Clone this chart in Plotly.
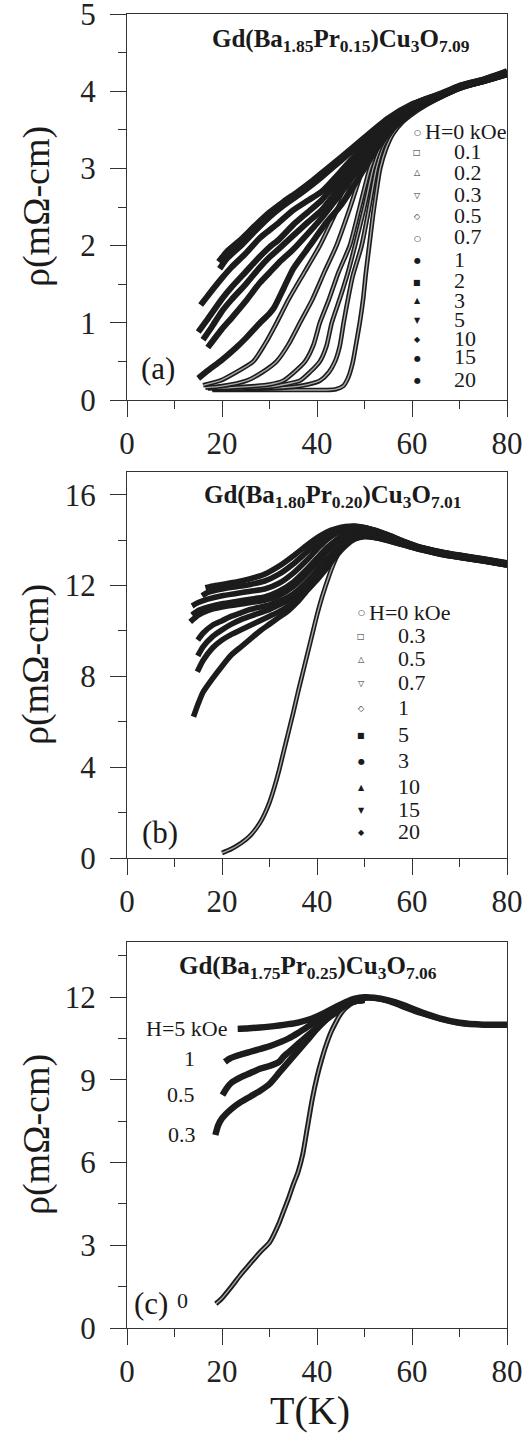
import plotly.graph_objects as go

# ---------------- Panel (a): Gd(Ba1.85Pr0.15)Cu3O7.09 ----------------
a_fields = ["H=0 kOe", "0.1", "0.2", "0.3", "0.5", "0.7", "1", "2", "3", "5", "10", "15", "20"]
a_T_0 = [18, 22, 26, 30, 34, 38, 42, 44, 45.5, 46.5, 47.5, 48.3, 49, 49.7, 50.3, 51, 51.8, 52.5, 53.3, 54.5, 56, 58, 60, 63, 66, 70, 75, 80]
a_rho_0 = [0.13, 0.13, 0.13, 0.13, 0.13, 0.13, 0.13, 0.14, 0.18, 0.28, 0.48, 0.75, 1.0, 1.3, 1.65, 2.0, 2.4, 2.7, 3.0, 3.25, 3.45, 3.6, 3.7, 3.82, 3.92, 4.03, 4.12, 4.21]
a_T_01 = [18, 25, 30, 35, 38, 40.6, 42.5, 43.8, 44.8, 45.6, 46.5, 47.5, 49.4, 51, 52.5, 54, 56, 58, 60, 63, 66, 70, 75, 80]
a_rho_01 = [0.14, 0.14, 0.15, 0.17, 0.2, 0.25, 0.36, 0.5, 0.7, 1.0, 1.3, 1.6, 2.0, 2.5, 3.0, 3.3, 3.5, 3.62, 3.72, 3.83, 3.92, 4.03, 4.12, 4.21]
a_T_02 = [18, 25, 30, 33, 36.4, 38.5, 40.6, 42, 43.1, 45, 46.5, 48, 50, 51.8, 53.5, 56, 58, 60, 63, 66, 70, 75, 80]
a_rho_02 = [0.14, 0.15, 0.17, 0.2, 0.25, 0.36, 0.5, 0.7, 1.0, 1.35, 1.65, 2.0, 2.5, 3.0, 3.3, 3.52, 3.64, 3.73, 3.84, 3.93, 4.04, 4.13, 4.22]
a_T_03 = [17, 22, 27, 30, 32.9, 35, 37.5, 39.3, 40.6, 42.5, 44.5, 46.9, 49, 51.1, 53, 55.5, 58, 60, 63, 66, 70, 75, 80]
a_rho_03 = [0.15, 0.16, 0.18, 0.2, 0.25, 0.35, 0.5, 0.72, 1.0, 1.3, 1.65, 2.0, 2.5, 3.0, 3.3, 3.53, 3.66, 3.74, 3.84, 3.93, 4.04, 4.13, 4.22]
a_T_05 = [16.5, 20, 25.2, 28.5, 31.5, 34, 36.4, 39, 41.5, 44.1, 47, 49.7, 52, 55, 58, 60, 63, 66, 70, 75, 80]
a_rho_05 = [0.16, 0.18, 0.25, 0.36, 0.5, 0.72, 1.0, 1.3, 1.65, 2.0, 2.5, 3.0, 3.28, 3.52, 3.68, 3.76, 3.85, 3.94, 4.04, 4.13, 4.22]
a_T_07 = [16, 19.6, 23, 26.6, 29, 31.5, 34, 37.3, 40.6, 44.5, 48.3, 51, 54, 57, 60, 63, 66, 70, 75, 80]
a_rho_07 = [0.19, 0.25, 0.36, 0.5, 0.72, 1.0, 1.3, 1.65, 2.0, 2.5, 3.0, 3.25, 3.5, 3.66, 3.77, 3.86, 3.94, 4.05, 4.13, 4.22]
a_T_1 = [15, 17, 20, 23, 25, 28, 30, 31, 33, 35, 38.5, 42, 45, 48, 50, 53, 56, 60, 63, 66, 70, 75, 80]
a_rho_1 = [0.28, 0.38, 0.52, 0.68, 0.8, 1.0, 1.12, 1.2, 1.45, 1.7, 2.0, 2.3, 2.52, 2.8, 3.0, 3.3, 3.53, 3.77, 3.86, 3.94, 4.05, 4.13, 4.22]
a_T_2 = [17, 20, 22, 25, 28, 30, 32, 35, 38, 41, 45, 50, 55, 60, 63, 66, 70, 75, 80]
a_rho_2 = [0.68, 0.92, 1.06, 1.28, 1.52, 1.65, 1.78, 1.95, 2.15, 2.36, 2.68, 3.1, 3.49, 3.77, 3.86, 3.94, 4.05, 4.13, 4.23]
a_T_3 = [16, 18, 20, 22, 25, 28, 30, 32, 35, 38, 41, 45, 50, 55, 60, 63, 66, 70, 75, 80]
a_rho_3 = [0.78, 0.96, 1.15, 1.3, 1.5, 1.72, 1.85, 1.96, 2.13, 2.3, 2.46, 2.78, 3.16, 3.52, 3.78, 3.87, 3.95, 4.05, 4.13, 4.23]
a_T_5 = [15, 17, 20, 22, 25, 28, 30, 32, 35, 38, 41, 45, 50, 55, 60, 63, 66, 70, 75, 80]
a_rho_5 = [0.88, 1.05, 1.31, 1.46, 1.66, 1.86, 1.98, 2.08, 2.27, 2.43, 2.59, 2.88, 3.23, 3.56, 3.8, 3.88, 3.95, 4.06, 4.14, 4.24]
a_T_10 = [15.5, 17, 20, 22, 25, 28, 30, 32, 35, 38, 41, 45, 50, 55, 60, 63, 66, 70, 75, 80]
a_rho_10 = [1.23, 1.35, 1.58, 1.72, 1.9, 2.1, 2.2, 2.3, 2.46, 2.58, 2.7, 2.96, 3.3, 3.6, 3.81, 3.89, 3.96, 4.06, 4.14, 4.24]
a_T_15 = [19.5, 21, 24, 27, 30, 33, 36, 39, 41, 45, 50, 55, 60, 63, 66, 70, 75, 80]
a_rho_15 = [1.7, 1.83, 2.0, 2.19, 2.37, 2.52, 2.65, 2.79, 2.89, 3.1, 3.37, 3.63, 3.82, 3.9, 3.96, 4.07, 4.15, 4.25]
a_T_20 = [19.3, 21, 24, 27, 30, 33, 36, 39, 41, 45, 50, 55, 60, 63, 66, 70, 75, 80]
a_rho_20 = [1.79, 1.92, 2.08, 2.26, 2.43, 2.57, 2.7, 2.84, 2.94, 3.14, 3.4, 3.65, 3.83, 3.9, 3.97, 4.07, 4.15, 4.26]

# ---------------- Panel (b): Gd(Ba1.80Pr0.20)Cu3O7.01 ----------------
b_fields = ["H=0 kOe", "0.3", "0.5", "0.7", "1", "5", "3", "10", "15", "20"]
b_T_0 = [20, 22, 24, 26, 28, 29, 30, 31, 32, 33, 34, 35, 36, 37, 38, 39, 40, 41, 42, 43, 44, 45, 46, 48, 50, 52, 55, 58, 62, 66, 70, 75, 80]
b_rho_0 = [0.22, 0.4, 0.65, 1.0, 1.55, 1.95, 2.45, 3.1, 3.85, 4.7, 5.55, 6.4, 7.3, 8.15, 9.0, 9.85, 10.7, 11.45, 12.1, 12.7, 13.2, 13.6, 13.9, 14.1, 14.15, 14.1, 13.95, 13.78, 13.55, 13.36, 13.22, 13.06, 12.88]
b_T_03 = [14, 15, 16, 18, 20, 22, 24, 26, 28, 30, 32, 34, 36, 38, 40, 42, 44, 46, 48, 50, 52, 55, 58, 62, 66, 70, 75, 80]
b_rho_03 = [6.22, 6.8, 7.3, 7.9, 8.45, 8.95, 9.3, 9.65, 10.0, 10.3, 10.6, 10.9, 11.3, 11.8, 12.25, 12.75, 13.3, 13.75, 14.05, 14.15, 14.12, 13.98, 13.8, 13.57, 13.38, 13.24, 13.08, 12.9]
b_T_05 = [14.8, 16, 18, 20, 22, 24, 26, 28, 30, 32, 34, 36, 38, 40, 42, 44, 46, 48, 50, 52, 55, 58, 62, 66, 70, 75, 80]
b_rho_05 = [8.2, 8.7, 9.25, 9.6, 9.85, 10.05, 10.25, 10.45, 10.65, 10.85, 11.1, 11.45, 11.9, 12.4, 12.95, 13.45, 13.85, 14.1, 14.2, 14.15, 14.0, 13.82, 13.58, 13.4, 13.25, 13.09, 12.91]
b_T_07 = [14.9, 16, 18, 20, 22, 24, 26, 28, 30, 32, 34, 36, 38, 40, 42, 44, 46, 48, 50, 52, 55, 58, 62, 66, 70, 75, 80]
b_rho_07 = [8.9, 9.3, 9.75, 10.05, 10.3, 10.5, 10.65, 10.8, 10.95, 11.15, 11.35, 11.65, 12.05, 12.5, 13.0, 13.5, 13.9, 14.15, 14.25, 14.2, 14.04, 13.85, 13.6, 13.41, 13.26, 13.1, 12.92]
b_T_1 = [14.9, 16, 18, 20, 22, 24, 26, 28, 30, 32, 34, 36, 38, 40, 42, 44, 46, 48, 50, 52, 55, 58, 62, 66, 70, 75, 80]
b_rho_1 = [9.6, 9.9, 10.25, 10.45, 10.65, 10.8, 10.95, 11.05, 11.15, 11.3, 11.5, 11.8, 12.2, 12.65, 13.15, 13.6, 13.95, 14.2, 14.3, 14.25, 14.08, 13.88, 13.62, 13.43, 13.28, 13.12, 12.94]
b_T_5 = [13.3, 15, 17, 20, 23, 26, 29, 32, 35, 38, 40, 42, 44, 46, 48, 50, 52, 55, 58, 62, 66, 70, 75, 80]
b_rho_5 = [10.4, 10.7, 10.9, 11.05, 11.15, 11.25, 11.35, 11.55, 11.95, 12.55, 13.0, 13.5, 13.9, 14.2, 14.4, 14.45, 14.35, 14.15, 13.92, 13.64, 13.45, 13.3, 13.14, 12.96]
b_T_3 = [13.7, 15, 17, 20, 23, 26, 29, 32, 35, 38, 40, 42, 44, 46, 48, 50, 52, 55, 58, 62, 66, 70, 75, 80]
b_rho_3 = [10.7, 10.9, 11.05, 11.2, 11.3, 11.4, 11.5, 11.75, 12.15, 12.75, 13.2, 13.65, 14.0, 14.3, 14.45, 14.5, 14.4, 14.18, 13.94, 13.65, 13.46, 13.31, 13.15, 12.97]
b_T_10 = [13.7, 15, 17, 20, 23, 26, 29, 32, 35, 38, 40, 42, 44, 46, 48, 50, 52, 55, 58, 62, 66, 70, 75, 80]
b_rho_10 = [11.1, 11.25, 11.4, 11.55, 11.65, 11.75, 11.85, 12.1, 12.55, 13.15, 13.6, 14.0, 14.3, 14.5, 14.55, 14.55, 14.42, 14.2, 13.95, 13.66, 13.47, 13.32, 13.16, 12.98]
b_T_15 = [15.8, 17, 20, 23, 26, 29, 32, 35, 38, 40, 42, 44, 46, 48, 50, 52, 55, 58, 62, 66, 70, 75, 80]
b_rho_15 = [11.55, 11.7, 11.85, 11.95, 12.05, 12.2, 12.5, 12.95, 13.5, 13.85, 14.15, 14.4, 14.55, 14.6, 14.55, 14.44, 14.22, 13.96, 13.67, 13.48, 13.33, 13.17, 12.99]
b_T_20 = [16.5, 18, 20, 23, 26, 29, 32, 35, 38, 40, 42, 44, 46, 48, 50, 52, 55, 58, 62, 66, 70, 75, 80]
b_rho_20 = [11.9, 11.98, 12.05, 12.15, 12.3, 12.5, 12.85, 13.3, 13.8, 14.1, 14.35, 14.5, 14.6, 14.62, 14.55, 14.45, 14.23, 13.97, 13.68, 13.49, 13.34, 13.18, 13.0]

# ---------------- Panel (c): Gd(Ba1.75Pr0.25)Cu3O7.06 ----------------
c_fields = ["0", "0.3", "0.5", "1", "H=5 kOe"]
c_T_0 = [18.7, 20, 22, 24, 26, 28, 30, 32, 33, 34, 35, 36, 37, 38, 39, 40, 41, 42, 43, 44, 45, 46, 48, 50, 52, 55, 58, 62, 66, 70, 75, 80]
c_rho_0 = [0.88, 1.08, 1.5, 1.95, 2.35, 2.75, 3.1, 3.8, 4.25, 4.7, 5.2, 5.65, 6.3, 7.3, 8.3, 9.1, 9.75, 10.3, 10.75, 11.1, 11.4, 11.6, 11.85, 11.95, 11.95, 11.85, 11.65, 11.4, 11.2, 11.05, 11.0, 11.0]
c_T_03 = [18.6, 19.2, 20, 22, 24, 26, 28, 30, 32, 34, 36, 38, 40, 42, 44, 46, 48, 50]
c_rho_03 = [7.0, 7.35, 7.6, 7.95, 8.2, 8.4, 8.6, 8.85, 9.25, 9.65, 10.05, 10.45, 10.85, 11.2, 11.5, 11.75, 11.85, 11.9]
c_T_05 = [20.1, 21, 22, 24, 26, 28, 30, 32, 33, 34, 36, 38, 40, 42, 44, 46, 48, 50]
c_rho_05 = [8.45, 8.7, 8.9, 9.1, 9.25, 9.4, 9.5, 9.65, 9.85, 10.0, 10.3, 10.6, 10.9, 11.2, 11.45, 11.7, 11.85, 11.9]
c_T_1 = [20.6, 21.7, 24, 26, 28, 30, 32, 34, 36, 38, 40, 42, 44, 46, 48, 50]
c_rho_1 = [9.65, 9.78, 9.92, 10.02, 10.12, 10.22, 10.35, 10.5, 10.7, 10.92, 11.15, 11.38, 11.58, 11.72, 11.85, 11.9]
c_T_5 = [23.3, 25, 28, 30, 32, 34, 36, 38, 40, 42, 44, 46, 48, 50, 52, 55, 58, 62, 66, 70, 75, 80]
c_rho_5 = [10.85, 10.86, 10.9, 10.93, 10.97, 11.02, 11.08, 11.17, 11.3, 11.47, 11.65, 11.82, 11.95, 12.0, 11.98, 11.88, 11.72, 11.45, 11.22, 11.07, 11.0, 11.0]

# tick values
x_ticks = [0, 20, 40, 60, 80]
a_yticks = [0, 1, 2, 3, 4, 5]
b_yticks = [0, 4, 8, 12, 16]
c_yticks = [0, 3, 6, 9, 12]

titles = [
    "<b>Gd(Ba<sub>1.85</sub>Pr<sub>0.15</sub>)Cu<sub>3</sub>O<sub>7.09</sub></b>",
    "<b>Gd(Ba<sub>1.80</sub>Pr<sub>0.20</sub>)Cu<sub>3</sub>O<sub>7.01</sub></b>",
    "<b>Gd(Ba<sub>1.75</sub>Pr<sub>0.25</sub>)Cu<sub>3</sub>O<sub>7.06</sub></b>",
]
panel_labels = ["(a)", "(b)", "(c)"]

# ---------------- figure geometry ----------------
W, H = 530, 1452
ML, MR, MT, MB = 127, 23, 14, 124
PW = W - ML - MR
PH = H - MT - MB


def pp(px, py):
    """pixel -> paper coordinates"""
    return (px - ML) / PW, (H - MB - py) / PH


def ydom(top_px, bot_px):
    return [pp(0, bot_px)[1], pp(0, top_px)[1]]


SERIF = "Liberation Serif"
INK = "#1c1c1c"
AX = "#333333"

fig = go.Figure()

panels = [
    ("x", "y", [
        (a_T_0, a_rho_0, True), (a_T_01, a_rho_01, True), (a_T_02, a_rho_02, True),
        (a_T_03, a_rho_03, True), (a_T_05, a_rho_05, True), (a_T_07, a_rho_07, True),
        (a_T_1, a_rho_1, False), (a_T_2, a_rho_2, False), (a_T_3, a_rho_3, False),
        (a_T_5, a_rho_5, False), (a_T_10, a_rho_10, False), (a_T_15, a_rho_15, False),
        (a_T_20, a_rho_20, False)], 4.6, 6.0),
    ("x2", "y2", [
        (b_T_0, b_rho_0, True), (b_T_03, b_rho_03, False), (b_T_05, b_rho_05, False),
        (b_T_07, b_rho_07, False), (b_T_1, b_rho_1, False), (b_T_5, b_rho_5, False),
        (b_T_3, b_rho_3, False), (b_T_10, b_rho_10, False), (b_T_15, b_rho_15, False),
        (b_T_20, b_rho_20, False)], 4.6, 5.6),
    ("x3", "y3", [
        (c_T_0, c_rho_0, True), (c_T_03, c_rho_03, False), (c_T_05, c_rho_05, False),
        (c_T_1, c_rho_1, False), (c_T_5, c_rho_5, False)], 5.0, 6.4),
]

for xa, ya, series, w_open, w_fill in panels:
    # open-symbol series: drawn as hollow chains
    for T, r, is_open in series:
        if is_open:
            fig.add_trace(go.Scatter(x=T, y=r, xaxis=xa, yaxis=ya, mode="lines",
                                     line=dict(color=INK, width=w_open, shape="spline", smoothing=0.6),
                                     showlegend=False, hoverinfo="skip"))
            fig.add_trace(go.Scatter(x=T, y=r, xaxis=xa, yaxis=ya, mode="lines",
                                     line=dict(color="#a8a8a8", width=1.4, shape="spline", smoothing=0.6),
                                     showlegend=False, hoverinfo="skip"))
    for T, r, is_open in series:
        if not is_open:
            fig.add_trace(go.Scatter(x=T, y=r, xaxis=xa, yaxis=ya, mode="lines",
                                     line=dict(color=INK, width=w_fill, shape="spline", smoothing=0.6),
                                     showlegend=False, hoverinfo="skip"))

# ---------------- axes ----------------
tickfont = dict(family=SERIF, size=31, color="#222")


def minor(step):
    return dict(tickmode="linear", tick0=0, dtick=step, ticks="outside", ticklen=8,
                tickwidth=1.2, tickcolor=AX, showgrid=False)


xcommon = dict(range=[0, 80], tickmode="array", tickvals=x_ticks, ticks="outside", ticklen=16,
               tickwidth=1.2, tickcolor=AX, showline=True, linecolor=AX, linewidth=1.2, mirror=True,
               showgrid=False, zeroline=False, tickfont=tickfont, ticklabelstandoff=0,
               ticklabeloverflow="allow", minor=minor(10), domain=[0, 1])
ycommon = dict(ticks="outside", ticklen=16, tickwidth=1.2, tickcolor=AX, showline=True,
               linecolor=AX, linewidth=1.2, mirror=True, showgrid=False, zeroline=False,
               tickfont=tickfont, ticklabelstandoff=8, tickmode="array", ticklabeloverflow="allow")

doms = [ydom(14, 400), ydom(472, 858), ydom(942, 1328)]
fig.update_layout(
    xaxis=dict(xcommon, anchor="y"),
    xaxis2=dict(xcommon, anchor="y2"),
    xaxis3=dict(xcommon, anchor="y3"),
    yaxis=dict(ycommon, anchor="x", domain=doms[0], range=[0, 5], tickvals=a_yticks, minor=minor(0.5)),
    yaxis2=dict(ycommon, anchor="x2", domain=doms[1], range=[0, 17], tickvals=b_yticks, minor=minor(2)),
    yaxis3=dict(ycommon, anchor="x3", domain=doms[2], range=[0, 14], tickvals=c_yticks, minor=minor(1.5)),
    width=W, height=H, margin=dict(l=ML, r=MR, t=MT, b=MB, autoexpand=False),
    paper_bgcolor="white", plot_bgcolor="white", showlegend=False,
)

ann = []


def add_text(px, py, text, size, xanchor="center", yanchor="middle", angle=0, family=SERIF):
    x, y = pp(px, py)
    ann.append(dict(x=x, y=y, xref="paper", yref="paper", text=text, showarrow=False,
                    xanchor=xanchor, yanchor=yanchor, textangle=angle,
                    font=dict(family=family, size=size, color="#1a1a1a")))


# panel titles
add_text(341, 40, titles[0], 25)
add_text(333, 497, titles[1], 25)
add_text(308, 967, titles[2], 25)
# panel tags
add_text(158, 368, panel_labels[0], 31)
add_text(160, 832, panel_labels[1], 31)
add_text(151, 1303, panel_labels[2], 31)
# y titles
for yc in (207, 665, 1135):
    add_text(36, yc, "ρ(mΩ-cm)", 38, angle=-90)
# x title
add_text(310, 1410, "T(K)", 40)

# legend of panel (a)
a_glyphs = ["○", "□", "△", "▽", "◇", "○", "●", "■", "▲", "▼", "◆", "●", "●"]
a_rows = [131, 151, 172, 194, 215, 237, 259, 281, 300, 319, 338, 357, 379]
for g, lab, yy in zip(a_glyphs, a_fields, a_rows):
    add_text(417, yy + 1, g, 8, family="DejaVu Sans")
    if lab.startswith("H"):
        add_text(423, yy, lab, 22, xanchor="left")
    else:
        add_text(452, yy, lab, 22, xanchor="left")

# legend of panel (b)
b_glyphs = ["○", "□", "△", "▽", "◇", "■", "●", "▲", "▼", "◆"]
b_rows = [612, 635, 658, 682, 707, 734, 760, 786, 809, 831]
for g, lab, yy in zip(b_glyphs, b_fields, b_rows):
    add_text(361, yy + 1, g, 8, family="DejaVu Sans")
    if lab.startswith("H"):
        add_text(367, yy, lab, 22, xanchor="left")
    else:
        add_text(396, yy, lab, 22, xanchor="left")

# curve labels of panel (c)
c_label_pos = [(190, 1300), (198, 1134), (197, 1094), (197, 1058), (229, 1028)]
for lab, (xx, yy) in zip(c_fields, c_label_pos):
    add_text(xx, yy, lab, 22, xanchor="right")

fig.update_layout(annotations=ann)
fig.write_html(
    "out.html",
    config={"displayModeBar": False},
    post_script="document.body.style.margin='0';document.body.style.overflow='hidden';",
)
